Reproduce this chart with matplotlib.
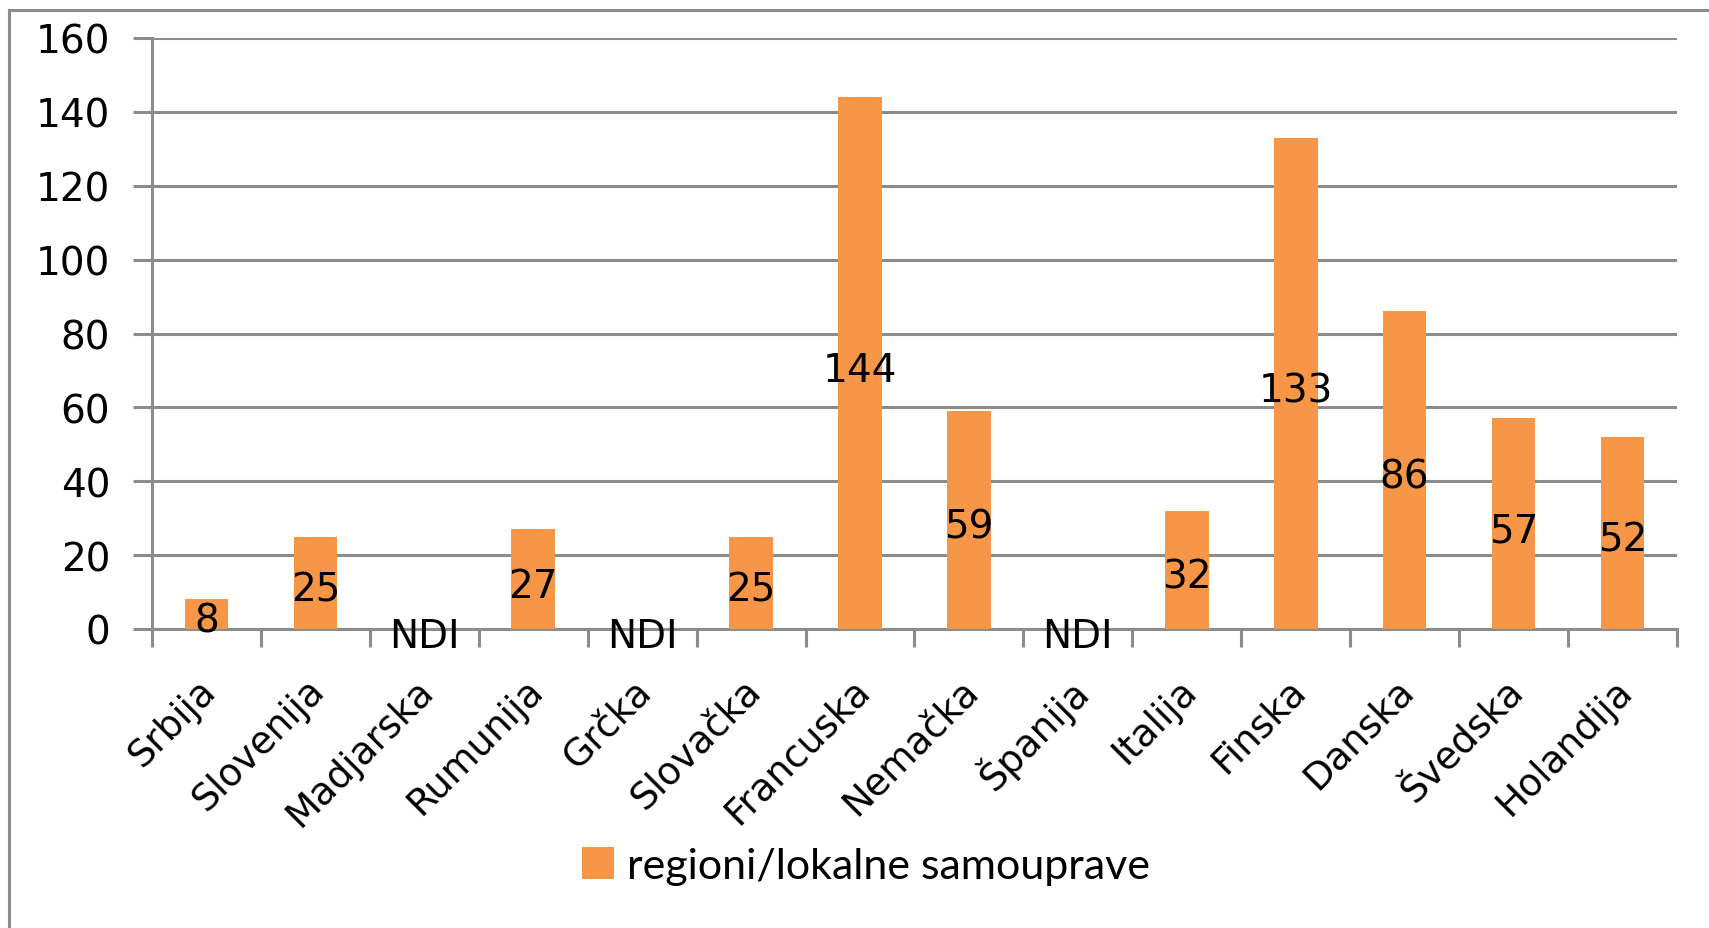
import numpy as np
import matplotlib.pyplot as plt
from matplotlib.patches import Rectangle
from matplotlib.transforms import ScaledTranslation

countries = ['Srbija', 'Slovenija', 'Madjarska', 'Rumunija', 'Grčka', 'Slovačka',
             'Francuska', 'Nemačka', 'Španija', 'Italija', 'Finska', 'Danska',
             'Švedska', 'Holandija']
values = [8, 25, 0, 27, 0, 25, 144, 59, 0, 32, 133, 86, 57, 52]
labels = ['8', '25', 'NDI', '27', 'NDI', '25', '144', '59', 'NDI', '32', '133', '86', '57', '52']
series_name = 'regioni/lokalne samouprave'

W, H = 1709, 929
gray = '#8c8c8c'
orange = '#F79646'

fig = plt.figure(figsize=(W / 100, H / 100), dpi=100)
ax = fig.add_axes([152 / W, 1 - 630 / H, (1677 - 152) / W, (630 - 39) / H])

x = np.arange(len(countries))
bars = ax.bar(x, values, width=0.4, color=orange, zorder=3, label=series_name)

for xi, v, lab in zip(x, values, labels):
    ax.text(xi, v / 2 - 1.8, lab, ha='center', va='center', fontsize=28, zorder=4)

ax.set_xlim(-0.5, len(countries) - 0.5)
ax.set_ylim(0, 160)
ax.set_yticks(np.arange(0, 161, 20))
ax.yaxis.grid(True, color=gray, linewidth=2.2, zorder=0)
ax.tick_params(axis='y', length=14, width=2.2, color=gray, labelsize=28, pad=16)

ax.set_xticks(x)
ax.set_xticklabels(countries, rotation=45, ha='right', va='center',
                   rotation_mode='anchor', fontsize=27)
ax.tick_params(axis='x', length=0, pad=40)
shift = ScaledTranslation(4 / 100, 0, fig.dpi_scale_trans)
for t in ax.get_xticklabels():
    t.set_transform(t.get_transform() + shift)
ax.set_xticks(np.arange(-0.5, len(countries), 1), minor=True)
ax.tick_params(axis='x', which='minor', length=13, width=2.2, color=gray)

for s in ['top', 'right']:
    ax.spines[s].set_visible(False)
for s in ['left', 'bottom']:
    ax.spines[s].set_color(gray)
    ax.spines[s].set_linewidth(2.2)

# outer chart border (cropped on right and bottom)
fig.patches.append(Rectangle((9 / W, -0.05), 1.1, 1.05 - 11 / H, transform=fig.transFigure,
                             fill=False, edgecolor=gray, linewidth=2.2))

fig.legend(handles=[bars], labels=[series_name], loc='center', frameon=False,
           bbox_to_anchor=(866 / W, 1 - 867 / H), handlelength=0.75,
           handleheight=0.75, handletextpad=0.3, prop={'family': 'Lato', 'size': 31})

fig.savefig('out.png', dpi=100)
